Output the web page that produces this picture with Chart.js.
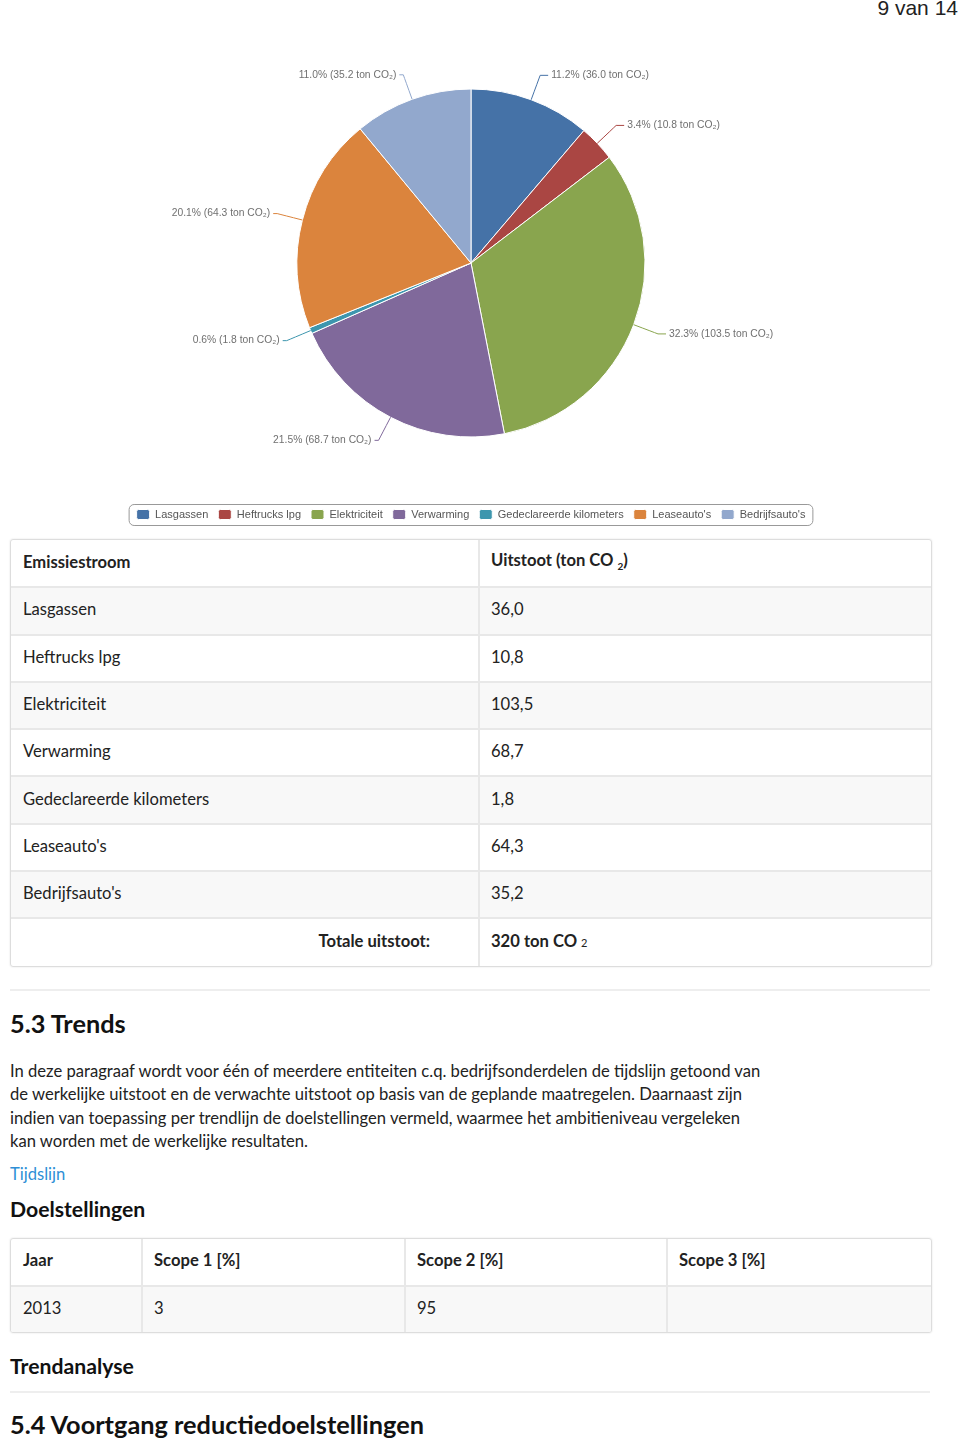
<!DOCTYPE html>
<html>
<head>
<meta charset="utf-8">
<script src="https://cdn.jsdelivr.net/npm/chart.js@4"></script>
<style>
  body { margin: 0; background: #fff; font-family: Lato, "Open Sans", sans-serif; color: #222; }
  .abs { position: absolute; }
  #pager { right: 2px; top: -4px; font-family: "Liberation Sans", Arial, sans-serif; font-size: 21px; color: #222; }
  #chartBox { left: 11px; top: 7px; width: 920px; height: 523px; }
  table { border-collapse: collapse; font-size: 16.6px; }
  .tbl { border: 1px solid #ddd; border-radius: 3px; box-shadow: 0 0 2px rgba(0,0,0,0.12); overflow: hidden; }
  td, th { border: 2px solid #e8e8e8; padding: 0 11px 3px 11px; text-align: left; box-sizing: border-box; }
  td:first-child, th:first-child { padding-left: 12px; }
  th { font-weight: bold; }
  tr:first-child td, tr:first-child th { border-top: none; }
  tr td:first-child, tr th:first-child { border-left: none; }
  tr td:last-child, tr th:last-child { border-right: none; }
  tr:last-child td, tr:last-child th { border-bottom: none; }
  #tbl1 { left: 10px; top: 539px; width: 920px; }
  #tbl1 tr { height: 47.3px; }
  #tbl1 tr.odd { background: #f8f8f8; }
  .hr { height: 2px; background: #eee; left: 10px; width: 920px; }
  h2, h3 { margin: 0; font-weight: bold; color: #111; }
  h2 { font-size: 25.3px; }
  h3 { font-size: 21.2px; }
  p { margin: 0; font-size: 16.6px; line-height: 23.4px; }
  #tbl2 { left: 10px; top: 1238px; width: 920px; }
  #tbl2 tr { height: 46.5px; }
  #tbl2 tr.odd { background: #f8f8f8; }
</style>
</head>
<body>
<div id="pager" class="abs">9 van 14</div>
<div id="chartBox" class="abs"><canvas id="pieChart"></canvas></div>

<div id="tbl1" class="abs tbl">
  <table style="width:100%" id="emTable">
    <colgroup><col style="width:468px"><col></colgroup>
  </table>
</div>

<div class="abs hr" style="top:989px"></div>
<h2 class="abs" style="left:10px; top:1008px">5.3 Trends</h2>
<p class="abs" style="left:10px; top:1060px; width:800px">In deze paragraaf wordt voor één of meerdere entiteiten c.q. bedrijfsonderdelen de tijdslijn getoond van<br>de werkelijke uitstoot en de verwachte uitstoot op basis van de geplande maatregelen. Daarnaast zijn<br>indien van toepassing per trendlijn de doelstellingen vermeld, waarmee het ambitieniveau vergeleken<br>kan worden met de werkelijke resultaten.</p>
<p class="abs" style="left:10px; top:1163px; color:#2e8fd6">Tijdslijn</p>
<h3 class="abs" style="left:10px; top:1196px">Doelstellingen</h3>

<div id="tbl2" class="abs tbl">
  <table style="width:100%">
    <colgroup><col style="width:131px"><col style="width:263px"><col style="width:262px"><col></colgroup>
    <tr><th>Jaar</th><th>Scope 1 [%]</th><th>Scope 2 [%]</th><th>Scope 3 [%]</th></tr>
    <tr class="odd"><td>2013</td><td>3</td><td>95</td><td></td></tr>
  </table>
</div>

<h3 class="abs" style="left:10px; top:1353px">Trendanalyse</h3>
<div class="abs hr" style="top:1391px"></div>
<h2 class="abs" style="left:10px; top:1409px">5.4 Voortgang reductiedoelstellingen</h2>

<script>
const categories = ['Lasgassen', 'Heftrucks lpg', 'Elektriciteit', 'Verwarming', 'Gedeclareerde kilometers', "Leaseauto's", "Bedrijfsauto's"];
const emissions = [36.0, 10.8, 103.5, 68.7, 1.8, 64.3, 35.2];
const shares = [11.2, 3.4, 32.3, 21.5, 0.6, 20.1, 11.0];
const sliceColors = ['#4572A7', '#AA4643', '#89A54E', '#80699B', '#3D96AE', '#DB843D', '#92A8CD'];

// table under the chart
let tbl = document.getElementById('emTable');
let html = '<tr><th>Emissiestroom</th><th>Uitstoot (ton CO <sub style="font-size:10px">2</sub>)</th></tr>';
categories.forEach((c, i) => {
    html += '<tr class="' + (i % 2 == 0 ? 'odd' : '') + '"><td>' + c + '</td><td>' + emissions[i].toFixed(1).replace('.', ',') + '</td></tr>';
});
let total = Math.round(emissions.reduce((a, b) => a + b, 0));
html += '<tr><th style="text-align:right;padding-right:48px">Totale uitstoot:</th><th>' + total + ' ton CO <span style="font-size:11px;font-weight:normal">2</span></th></tr>';
tbl.innerHTML += html;

// draws the outside labels with connector lines
const pieLabels = {
    id: 'pieLabels',
    afterDatasetsDraw(chart) {
        let ctx = chart.ctx;
        let arcs = chart.getDatasetMeta(0).data;
        ctx.save();
        ctx.font = '10.3px "Liberation Sans", Arial, sans-serif';
        ctx.textBaseline = 'middle';
        arcs.forEach((arc, i) => {
            let mid = (arc.startAngle + arc.endAngle) / 2;
            let r = arc.outerRadius;
            let cos = Math.cos(mid), sin = Math.sin(mid);
            let ex = arc.x + cos * r, ey = arc.y + sin * r;
            let ax = arc.x + cos * (r + 26), ay = arc.y + sin * (r + 26);
            let right = cos >= 0;
            let dir = right ? 1 : -1;
            ctx.strokeStyle = sliceColors[i];
            ctx.lineWidth = 1;
            ctx.beginPath();
            ctx.moveTo(ex, ey);
            ctx.quadraticCurveTo(arc.x + cos * (r + 20), arc.y + sin * (r + 20), ax, ay);
            ctx.lineTo(ax + dir * (right ? 8 : 4), ay);
            ctx.stroke();
            ctx.fillStyle = '#707070';
            ctx.textAlign = right ? 'left' : 'right';
            let txt = shares[i].toFixed(1) + '% (' + emissions[i].toFixed(1) + ' ton CO\u2082)';
            ctx.fillText(txt, ax + dir * (right ? 11 : 7), ay);
        });
        ctx.restore();
    }
};

// rounded frame round the legend items
const legendFrame = {
    id: 'legendFrame',
    afterDraw(chart) {
        let boxes = chart.legend.legendHitBoxes;
        if (!boxes.length) return;
        let l = Math.min(...boxes.map(b => b.left)) - 8;
        let r = Math.max(...boxes.map(b => b.left + b.width)) + 7;
        let t = boxes[0].top - 5;
        let h = boxes[0].height + 10;
        let ctx = chart.ctx;
        ctx.save();
        ctx.strokeStyle = '#999';
        ctx.lineWidth = 1;
        ctx.beginPath();
        ctx.roundRect(l + 0.5, t + 0.5, r - l, h, 5);
        ctx.stroke();
        ctx.restore();
    }
};

let ctxP = document.getElementById('pieChart').getContext('2d');
let pieChart = new Chart(ctxP, {
    type: 'pie',
    data: {
        labels: categories,
        datasets: [{
            data: emissions,
            backgroundColor: sliceColors,
            borderColor: '#fff',
            borderWidth: 1,
            radius: 174
        }]
    },
    options: {
        responsive: true,
        maintainAspectRatio: false,
        animation: false,
        layout: { padding: { top: 20, bottom: 0 } },
        plugins: {
            tooltip: { enabled: false },
            legend: {
                position: 'bottom',
                labels: {
                    boxWidth: 13,
                    boxHeight: 10,
                    padding: 10,
                    useBorderRadius: true,
                    borderRadius: 2,
                    color: '#555',
                    font: { family: '"Liberation Sans", Arial, sans-serif', size: 11 }
                }
            }
        }
    },
    plugins: [pieLabels, legendFrame]
});
</script>
</body>
</html>
